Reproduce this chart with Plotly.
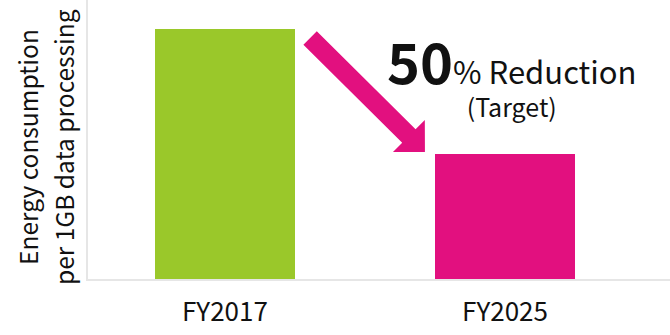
import plotly.graph_objects as go
import math

categories = ["FY2017", "FY2025"]
values = [100, 50]
bar_colors = ["#9AC82A", "#E2107F"]
ytitle_lines = ["Energy consumption", "per 1GB data processing"]
headline_big = "50"
headline_rest = "% Reduction"
subline = "(Target)"

FONT = "Noto Sans CJK JP"
W, H = 670, 335
ML, MR, MT, MB = 88, 0, 0, 56
XR = [-0.489, 1.589]
YR = [0, 111.6]
PW, PH = W - ML - MR, H - MT - MB

def to_px(xd, yd):
    return (ML + (xd - XR[0]) / (XR[1] - XR[0]) * PW,
            MT + PH - (yd - YR[0]) / (YR[1] - YR[0]) * PH)

def to_data(px, py):
    return (XR[0] + (px - ML) / PW * (XR[1] - XR[0]),
            YR[0] + (MT + PH - py) / PH * (YR[1] - YR[0]))

fig = go.Figure()
fig.add_trace(go.Bar(x=categories, y=values, marker=dict(color=bar_colors, line=dict(width=0)),
                     width=0.5, hoverinfo="skip"))

# arrow from top of first bar toward top of second bar
tx, ty = to_px(0.304, values[0] * 0.964)
hx, hy = to_px(0.714, values[1] * 1.016)
L = math.hypot(hx - tx, hy - ty)
dx, dy = (hx - tx) / L, (hy - ty) / L
nx, ny = -dy, dx
sw, hw, hl = 9.5, 22.6, 22.6
bx, by = hx - dx * hl, hy - dy * hl
pts = [
    (tx + nx * sw, ty + ny * sw),
    (bx + nx * sw, by + ny * sw),
    (bx + nx * hw, by + ny * hw),
    (hx, hy),
    (bx - nx * hw, by - ny * hw),
    (bx - nx * sw, by - ny * sw),
    (tx - nx * sw, ty - ny * sw),
]
dpts = [to_data(*p) for p in pts]
path = "M " + " L ".join(f"{x:.4f},{y:.4f}" for x, y in dpts) + " Z"
fig.add_shape(type="path", path=path, xref="x", yref="y", fillcolor="#E2107F",
              line=dict(width=0), layer="above")

ax, ay = to_data(512, 71)
fig.add_annotation(
    x=ax, y=ay, xref="x", yref="y", showarrow=False, align="center",
    text=(f"<b><span style='font-size:56px'>{headline_big}</span></b>"
          f"<span style='font-size:31px'>{headline_rest}</span><br>{subline}"),
    font=dict(family=FONT, size=25, color="#111111"), xanchor="center", yanchor="middle")

for line, cx in zip(ytitle_lines, [27, 63]):
    fig.add_annotation(x=(cx - ML) / PW, y=1 - (147 - MT) / PH, xref="paper", yref="paper",
                       showarrow=False, text=line, textangle=-90,
                       font=dict(family=FONT, size=24.5, color="#111111"),
                       xanchor="center", yanchor="middle")

fig.update_layout(
    width=W, height=H, margin=dict(l=ML, r=MR, t=MT, b=MB),
    paper_bgcolor="white", plot_bgcolor="white", showlegend=False, bargap=0,
    xaxis=dict(type="category", range=XR, showline=True, linecolor="#E6E6E6", linewidth=2,
               showgrid=False, zeroline=False, ticks="", fixedrange=True, ticklabelstandoff=9,
               tickfont=dict(family=FONT, size=26, color="#111111")),
    yaxis=dict(range=YR, showline=True, linecolor="#E6E6E6", linewidth=2, showgrid=False,
               zeroline=False, showticklabels=False, ticks="", fixedrange=True),
)
fig.write_html("out.html", config={"displayModeBar": False})
